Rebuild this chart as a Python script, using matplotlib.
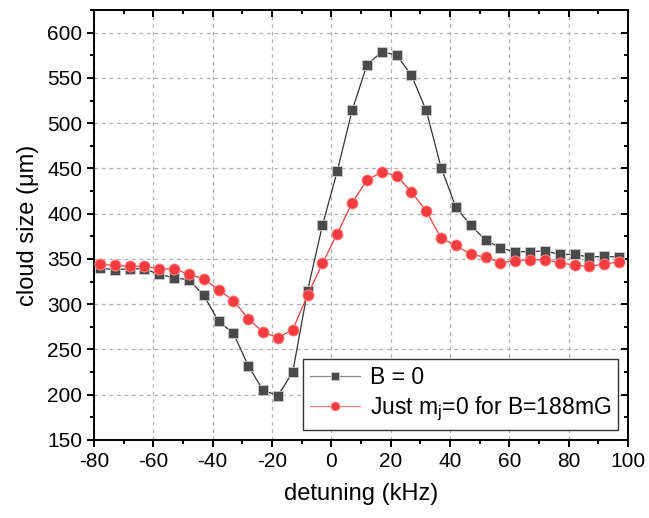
import matplotlib

matplotlib.use("Agg")
import matplotlib.pyplot as plt
from matplotlib.ticker import MultipleLocator

plt.rcParams["font.family"] = ["Liberation Sans", "DejaVu Sans"]
plt.rcParams["axes.unicode_minus"] = False

detuning = [-78 + 5 * i for i in range(36)]

b_zero = [340, 338, 339, 339, 333, 329, 327, 310, 281, 268,
          232, 205, 199, 225, 315, 387, 447, 514, 564, 579,
          575, 553, 514, 451, 407, 387, 371, 362, 358, 358,
          359, 355, 355, 352, 353, 352]

just_mj0 = [344, 343, 342, 342, 339, 339, 333, 328, 316, 304,
            284, 269, 263, 272, 310, 345, 378, 412, 437, 446,
            442, 424, 403, 373, 365, 355, 352, 346, 348, 349,
            349, 346, 343, 342, 344, 347]

labels = ["B = 0", "Just m$_\\mathregular{j}$=0 for B=188mG"]

fig = plt.figure(figsize=(6.49, 5.18), dpi=100)
ax = fig.add_axes([0.1448, 0.1506, 0.8228, 0.8301])

ax.plot(detuning, b_zero, color="#333333", lw=0.9, marker="s", ms=7.2,
        mfc="#4a4a4a", mec="#c8c8c8", mew=0.6, label=labels[0], zorder=3)
ax.plot(detuning, just_mj0, color="#f03c3c", lw=0.9, marker="o", ms=8,
        mfc="#f23c3f", mec="#ff9090", mew=0.6, label=labels[1], zorder=3)

ax.set_xlim(-80, 100)
ax.set_ylim(150, 625)
ax.xaxis.set_major_locator(MultipleLocator(20))
ax.xaxis.set_minor_locator(MultipleLocator(10))
ax.yaxis.set_major_locator(MultipleLocator(50))
ax.yaxis.set_minor_locator(MultipleLocator(25))

ax.grid(True, which="major", color="#b0b0b0", lw=0.9, ls=(0, (3, 3)))
ax.set_axisbelow(True)

for s in ax.spines.values():
    s.set_linewidth(1.4)

ax.tick_params(axis="both", which="both", labelsize=15, width=1.4)
ax.tick_params(which="major", length=5)
ax.tick_params(which="minor", length=3)
ax.xaxis.set_tick_params(which="both", top=True)
ax.yaxis.set_tick_params(which="both", right=True)
for t in ax.xaxis.get_major_ticks() + ax.xaxis.get_minor_ticks():
    t.tick2line.set_marker(3)
for t in ax.yaxis.get_major_ticks() + ax.yaxis.get_minor_ticks():
    t.tick2line.set_marker(0)

ax.set_xlabel("detuning (kHz)", fontsize=17, labelpad=9)
ax.set_ylabel("cloud size (\u03bcm)", fontsize=17, labelpad=6)

leg = ax.legend(loc="lower right", fontsize=16.5, fancybox=False,
                edgecolor="#333333", framealpha=1, borderaxespad=0.45,
                handlelength=2.2, handletextpad=0.4, borderpad=0.3,
                labelspacing=0.25, markerscale=0.8)
leg.get_frame().set_linewidth(1.0)
for h in leg.legend_handles:
    h.set_color("#888888" if h.get_marker() == "s" else "#ff8080")

fig.savefig("out.png", dpi=100)
